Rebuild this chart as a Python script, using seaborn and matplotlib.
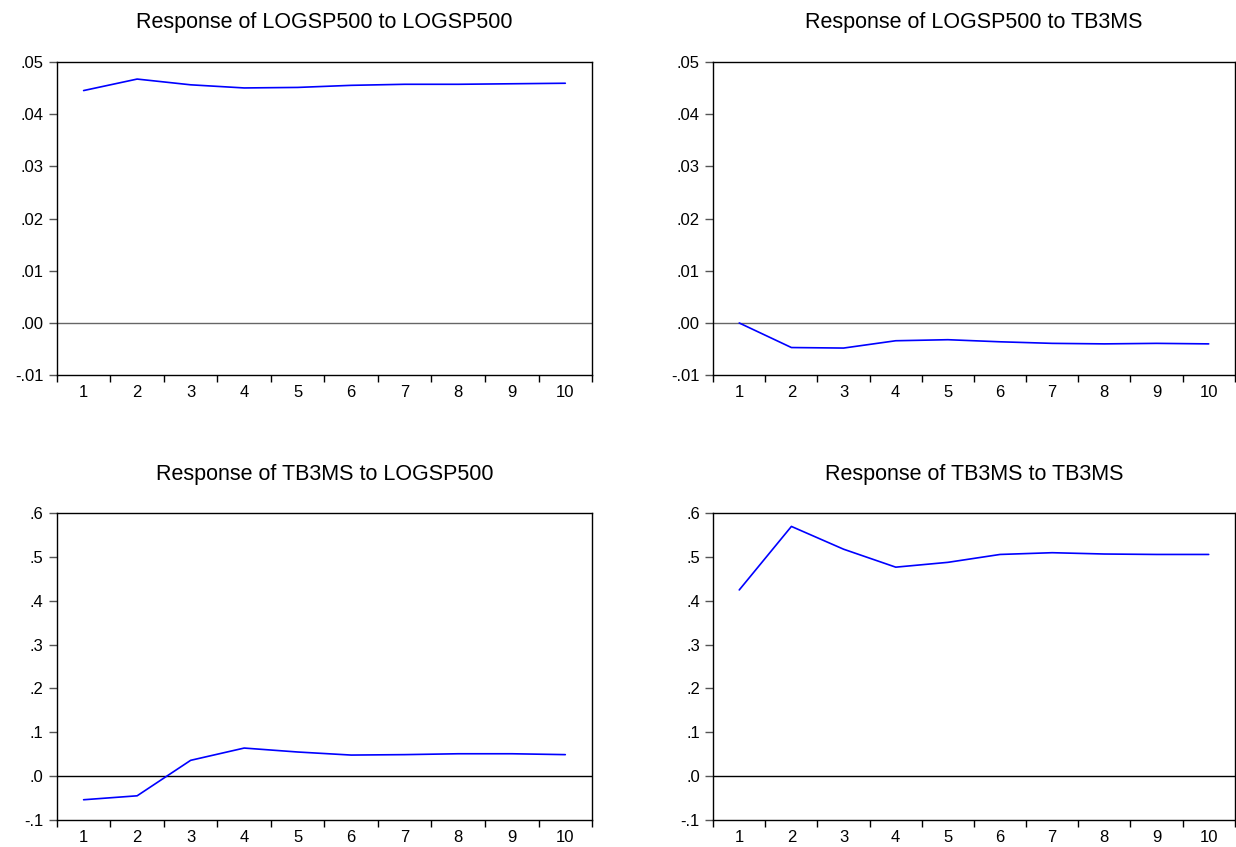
import matplotlib
matplotlib.use("Agg")
import matplotlib.pyplot as plt
import seaborn as sns
import pandas as pd

periods = [1, 2, 3, 4, 5, 6, 7, 8, 9, 10]
titles = ["Response of LOGSP500 to LOGSP500", "Response of LOGSP500 to TB3MS",
          "Response of TB3MS to LOGSP500", "Response of TB3MS to TB3MS"]
logsp_logsp = [0.0445, 0.0467, 0.0456, 0.0450, 0.0451, 0.0455, 0.0457, 0.0457, 0.0458, 0.0459]
logsp_tb3 = [0.0000, -0.0047, -0.0048, -0.0034, -0.0032, -0.0036, -0.0039, -0.0040, -0.0039, -0.0040]
tb3_logsp = [-0.054, -0.045, 0.036, 0.064, 0.055, 0.048, 0.049, 0.051, 0.051, 0.049]
tb3_tb3 = [0.425, 0.570, 0.518, 0.477, 0.488, 0.506, 0.510, 0.507, 0.506, 0.506]
top_ticks = [-0.01, 0.0, 0.01, 0.02, 0.03, 0.04, 0.05]
top_labels = ["-.01", ".00", ".01", ".02", ".03", ".04", ".05"]
bot_ticks = [-0.1, 0.0, 0.1, 0.2, 0.3, 0.4, 0.5, 0.6]
bot_labels = ["-.1", ".0", ".1", ".2", ".3", ".4", ".5", ".6"]

sns.set_style("white")
plt.rcParams['font.family'] = ['Liberation Sans', 'DejaVu Sans']
plt.rcParams['text.color'] = 'black'
plt.rcParams['xtick.labelcolor'] = 'black'
plt.rcParams['ytick.labelcolor'] = 'black'

fig = plt.figure(figsize=(12.36, 8.47), dpi=100)
positions = [
    [0.046, 0.557, 0.433, 0.370],
    [0.577, 0.557, 0.422, 0.370],
    [0.046, 0.032, 0.433, 0.362],
    [0.577, 0.032, 0.422, 0.362],
]
series = [logsp_logsp, logsp_tb3, tb3_logsp, tb3_tb3]
for i, (pos, vals, title) in enumerate(zip(positions, series, titles)):
    ax = fig.add_axes(pos)
    df = pd.DataFrame({"period": periods, "value": vals})
    sns.lineplot(data=df, x="period", y="value", ax=ax, color="#0000ff", linewidth=1.2)
    ax.axhline(0, color="#666666" if i < 2 else "black", linewidth=1.0, zorder=1)
    ax.set_xlim(0.5, 10.5)
    if i < 2:
        ax.set_ylim(top_ticks[0], top_ticks[-1])
        ax.set_yticks(top_ticks)
        ax.set_yticklabels(top_labels)
    else:
        ax.set_ylim(bot_ticks[0], bot_ticks[-1])
        ax.set_yticks(bot_ticks)
        ax.set_yticklabels(bot_labels)
    ax.set_xticks([p + 0.5 for p in [0] + periods])
    ax.set_xticklabels([])
    ax.set_xticks(periods, minor=True)
    ax.set_xticklabels([str(p) for p in periods], minor=True)
    ax.tick_params(axis="x", which="major", bottom=True, direction="out", length=5, width=1.0, color="black")
    ax.tick_params(axis="x", which="minor", bottom=True, length=0, labelsize=12, pad=7, labelcolor="black")
    ax.tick_params(axis="y", left=True, direction="out", length=6, width=1.0, color="#555555",
                   labelsize=12, pad=3.5, labelcolor="black")
    for s in ax.spines.values():
        s.set_color("black")
        s.set_linewidth(1.0)
    ax.set_xlabel("")
    ax.set_ylabel("")
    ax.set_title(title, fontsize=15.5, pad=24, color="black")

fig.savefig("out.png", dpi=100)
